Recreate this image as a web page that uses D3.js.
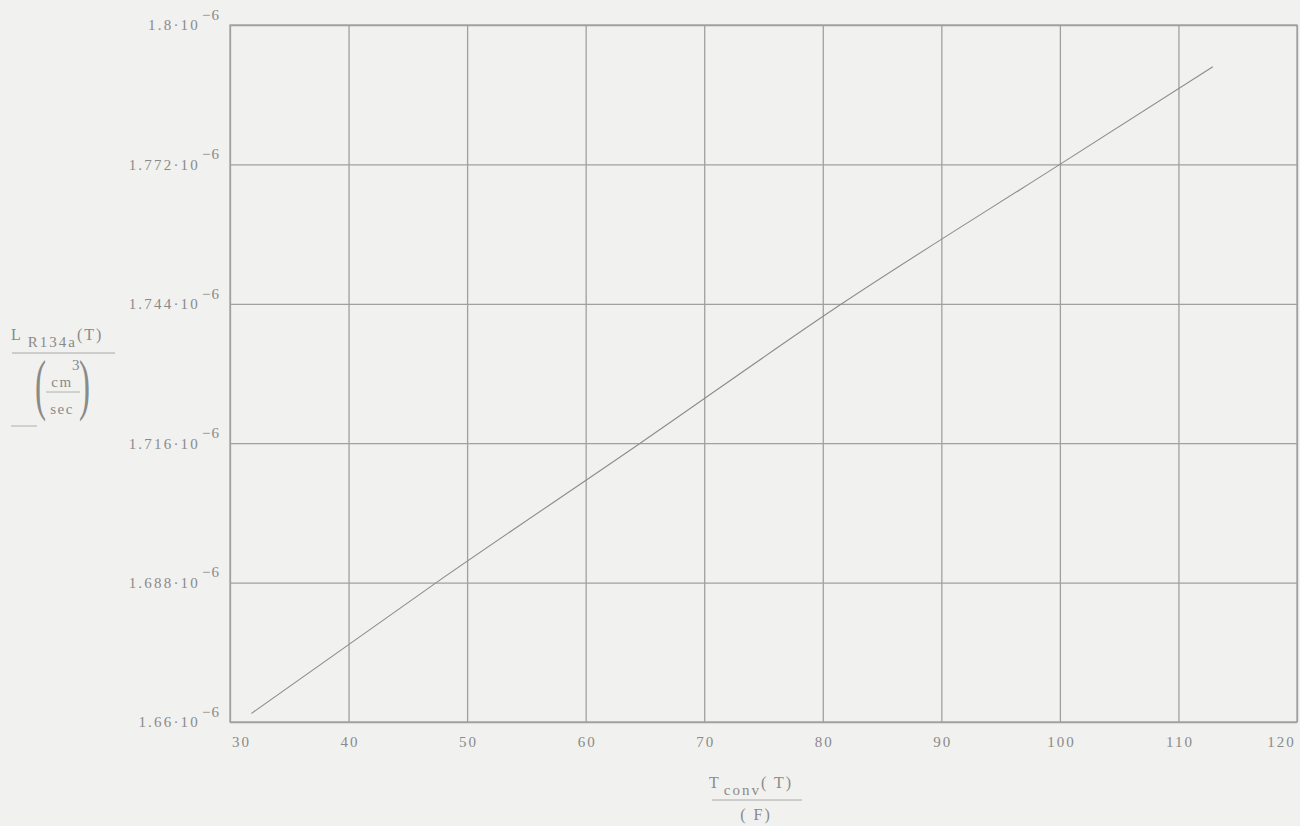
<!DOCTYPE html>
<html>
<head>
<meta charset="utf-8">
<script src="https://cdn.jsdelivr.net/npm/d3@7"></script>
<style>
  html, body { margin: 0; padding: 0; background: #f1f1ef; }
  svg { display: block; }
  text { font-family: "Liberation Serif", "DejaVu Serif", serif; fill: #8a8a8a; }
</style>
</head>
<body>
<svg id="chart" width="1300" height="826"></svg>
<script>
// ---- data ----
const temps = [31.8, 47.4, 64.6, 81.6, 100, 112.9];                       // T_conv (F)
const leak = [1.6617e-6, 1.688e-6, 1.716e-6, 1.744e-6, 1.772e-6, 1.7916e-6]; // L_R134a (cm^3/sec)
const xTicks = [30, 40, 50, 60, 70, 80, 90, 100, 110, 120];
const yTicks = [1.66e-6, 1.688e-6, 1.716e-6, 1.744e-6, 1.772e-6, 1.8e-6];
const yTickLabels = ["1.66", "1.688", "1.716", "1.744", "1.772", "1.8"];
const xDomain = [30, 120];
const yDomain = [1.66e-6, 1.8e-6];

// ---- layout ----
const L = 230, R = 1297, T = 25, B = 722;
const svg = d3.select("#chart");
svg.append("rect").attr("width", 1300).attr("height", 826).attr("fill", "#f1f1ef");

const x = d3.scaleLinear().domain(xDomain).range([L, R]);
const y = d3.scaleLinear().domain(yDomain).range([B, T]);

const gridColor = "#a0a0a0";
const FONT = "Liberation Serif, DejaVu Serif, serif";

// x axis with vertical grid
const gx = svg.append("g").attr("transform", `translate(0,${B})`)
  .call(d3.axisBottom(x).tickValues(xTicks).tickSize(-(B - T)).tickPadding(14).tickFormat(d => d));
gx.select(".domain").remove();
gx.selectAll(".tick line").attr("stroke", gridColor).attr("stroke-width", 1.3);
gx.selectAll(".tick text").attr("font-size", 15).attr("fill", "#8c8c8c")
  .attr("font-family", FONT).attr("letter-spacing", 2)
  .attr("dx", (d, i) => i === 0 ? 11 : (i === xTicks.length - 1 ? -16 : 1));

// y axis with horizontal grid
const gy = svg.append("g").attr("transform", `translate(${L},0)`)
  .call(d3.axisLeft(y).tickValues(yTicks).tickSize(-(R - L)).tickPadding(10).tickFormat(""));
gy.select(".domain").remove();
gy.selectAll(".tick line").attr("stroke", gridColor).attr("stroke-width", 1.3);
gy.selectAll(".tick text").each(function(d, i) {
  const t = d3.select(this)
    .attr("font-size", 15).attr("fill", "#8c8c8c")
    .attr("font-family", FONT).attr("letter-spacing", 2.2);
  t.text(null);
  t.append("tspan").text(yTickLabels[i] + "·10");
  t.append("tspan").attr("dy", "-0.7em").attr("dx", "2").attr("letter-spacing", 1).text("−6");
});

// frame
svg.append("rect").attr("x", L).attr("y", T).attr("width", R - L).attr("height", B - T)
  .attr("fill", "none").attr("stroke", gridColor).attr("stroke-width", 1.3);

// data curve
const line = d3.line().x((d, i) => x(temps[i])).y(d => y(d)).curve(d3.curveMonotoneX);
svg.append("path").datum(leak).attr("d", line)
  .attr("fill", "none").attr("stroke", "#8c8c8c").attr("stroke-width", 1.1);

// x axis title: T_conv(T) / (F)
const xt = svg.append("g");
const xNum = xt.append("text").attr("x", 709).attr("y", 788).attr("font-size", 16).attr("letter-spacing", 2);
xNum.append("tspan").text("T");
xNum.append("tspan").attr("dx", 3).attr("dy", 7).attr("font-size", 15).text("conv");
xNum.append("tspan").attr("dy", -7).text("( T)");
xt.append("line").attr("x1", 712).attr("x2", 802).attr("y1", 800).attr("y2", 800)
  .attr("stroke", "#a8a8a8").attr("stroke-width", 1);
xt.append("text").attr("x", 756).attr("y", 820).attr("text-anchor", "middle")
  .attr("font-size", 16).attr("letter-spacing", 2).text("( F)");

// y axis title: L_R134a(T) / (cm^3/sec)
const yt = svg.append("g");
const yNum = yt.append("text").attr("x", 11).attr("y", 340).attr("font-size", 16).attr("letter-spacing", 2);
yNum.append("tspan").text("L");
yNum.append("tspan").attr("dx", 5).attr("dy", 7).attr("font-size", 15).text("R134a");
yNum.append("tspan").attr("dy", -7).text("(T)");
yt.append("line").attr("x1", 12).attr("x2", 115).attr("y1", 353).attr("y2", 353)
  .attr("stroke", "#a8a8a8").attr("stroke-width", 1);
yt.append("text").attr("x", 35).attr("y", 400).attr("font-size", 44)
  .attr("transform", "translate(35,388) scale(0.75,1.55) translate(-35,-388)").text("(");
yt.append("text").attr("x", 79).attr("y", 400).attr("font-size", 44)
  .attr("transform", "translate(79,388) scale(0.75,1.55) translate(-79,-388)").text(")");
yt.append("text").attr("x", 62).attr("y", 387).attr("text-anchor", "middle").attr("font-size", 15)
  .attr("letter-spacing", 1.5).text("cm");
yt.append("text").attr("x", 72).attr("y", 370).attr("font-size", 15).text("3");
yt.append("line").attr("x1", 46).attr("x2", 80).attr("y1", 392).attr("y2", 392)
  .attr("stroke", "#b0b0b0").attr("stroke-width", 1);
yt.append("text").attr("x", 62).attr("y", 414).attr("text-anchor", "middle").attr("font-size", 15)
  .attr("letter-spacing", 1.5).text("sec");
yt.append("line").attr("x1", 11).attr("x2", 37).attr("y1", 426).attr("y2", 426)
  .attr("stroke", "#b0b0b0").attr("stroke-width", 1);
</script>
</body>
</html>
